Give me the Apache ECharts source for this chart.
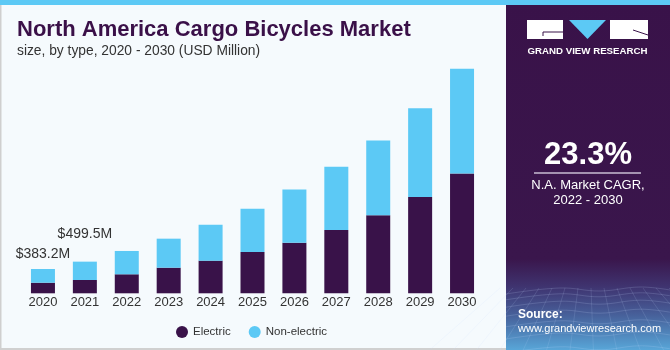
<!DOCTYPE html>
<html>
<head>
<meta charset="utf-8">
<script src="https://cdn.jsdelivr.net/npm/echarts@6/dist/echarts.min.js"></script>
<style>
  html, body { margin: 0; padding: 0; }
  #chart { width: 670px; height: 350px; }
</style>
</head>
<body>
<div id="chart"></div>
<script>
var years = ['2020', '2021', '2022', '2023', '2024', '2025', '2026', '2027', '2028', '2029', '2030'];
var electric = [167, 210, 300, 404, 515, 652, 799, 1000, 1232, 1521, 1889];
var nonElectric = [216.2, 289.5, 368, 458, 568, 684, 837, 995, 1178, 1400, 1653];
var labelled = { 0: 8, 1: 21 };   // year index -> label distance above the bar

var dom_chart = document.getElementById('chart');
var chart = echarts.init(dom_chart);

var purple = '#391249';
var blue = '#5cc9f5';

// perspective grid lines for the bottom of the side panel
var gridLines = [];
for (var i = 0; i < 9; i++) {
    var y = 290 + i * i * 0.8 + i * 5;
    gridLines.push({
        type: 'polyline', silent: true,
        shape: { points: [[506, y + 4], [560, y - 2], [600, y + 1], [640, y - 3], [670, y]], smooth: 0.4 },
        style: { stroke: 'rgba(200,220,255,0.22)', lineWidth: 0.8, fill: null }
    });
}
for (var j = 0; j < 14; j++) {
    var xt = 500 + j * 13;
    gridLines.push({
        type: 'line', silent: true,
        shape: { x1: xt, y1: 288, x2: 588 + (xt - 588) * 1.8, y2: 350 },
        style: { stroke: 'rgba(200,220,255,0.18)', lineWidth: 0.8 }
    });
}

var option = {
    backgroundColor: '#f5fafd',
    animation: false,
    title: {
        text: 'North America Cargo Bicycles Market',
        subtext: 'size, by type, 2020 - 2030 (USD Million)',
        left: 12, top: 14, itemGap: 3,
        textStyle: { fontFamily: 'Liberation Sans', fontWeight: 'bold', fontSize: 22, color: '#3a1048' },
        subtextStyle: { fontFamily: 'Liberation Sans', fontSize: 13.8, color: '#333333' }
    },
    legend: {
        left: 171, top: 321,
        icon: 'circle', itemWidth: 12, itemHeight: 12, itemGap: 18,
        textStyle: { fontFamily: 'Liberation Sans', fontSize: 11.5, color: '#333333' },
        data: ['Electric', 'Non-electric']
    },
    grid: { left: 22, width: 461, bottom: 56.7, top: 39.8 },
    xAxis: {
        type: 'category', data: years,
        axisLine: { show: false }, axisTick: { show: false },
        axisLabel: { margin: 3, fontFamily: 'Liberation Sans', fontSize: 13, color: '#333333' }
    },
    yAxis: { type: 'value', min: 0, max: 4000, show: false, splitLine: { show: false } },
    series: [{
        name: 'Electric', type: 'bar', stack: 'total', barWidth: 24,
        itemStyle: { color: purple },
        data: electric
    }, {
        name: 'Non-electric', type: 'bar', stack: 'total', barWidth: 24,
        itemStyle: { color: blue },
        data: nonElectric.map(function (v, idx) {
            if (labelled[idx] === undefined) return v;
            return {
                value: v,
                label: {
                    show: true, position: 'top', distance: labelled[idx],
                    fontFamily: 'Liberation Sans', fontSize: 14, color: '#333333',
                    formatter: function (p) {
                        return '$' + (electric[p.dataIndex] + nonElectric[p.dataIndex]).toFixed(1) + 'M';
                    }
                }
            };
        })
    }],
    graphic: [
        { type: 'rect', silent: true, shape: { x: 0, y: 0, width: 1.5, height: 350 }, style: { fill: '#cfcfcf' } },
        { type: 'rect', silent: true, shape: { x: 0, y: 348, width: 506, height: 2 }, style: { fill: '#d0d0d0' } },
        {
            type: 'rect', silent: true, shape: { x: 506, y: 0, width: 164, height: 350 },
            style: {
                fill: new echarts.graphic.LinearGradient(0, 0, 0, 1, [
                    { offset: 0, color: purple },
                    { offset: 0.74, color: '#3a164c' },
                    { offset: 0.82, color: '#3f3470' },
                    { offset: 0.9, color: '#47609a' },
                    { offset: 1, color: '#58a6d8' }
                ])
            }
        },
        { type: 'group', children: gridLines },
        { type: 'rect', silent: true, shape: { x: 0, y: 0, width: 670, height: 5 }, style: { fill: blue } },
        // logo
        { type: 'rect', silent: true, shape: { x: 527, y: 20, width: 36, height: 19 }, style: { fill: '#ffffff' } },
        { type: 'polyline', silent: true, shape: { points: [[563, 32], [543, 32], [543, 36]] }, style: { stroke: purple, lineWidth: 1, fill: null } },
        { type: 'polygon', silent: true, shape: { points: [[569, 20], [606, 20], [587.5, 39]] }, style: { fill: blue } },
        { type: 'rect', silent: true, shape: { x: 610, y: 20, width: 38, height: 19 }, style: { fill: '#ffffff' } },
        { type: 'line', silent: true, shape: { x1: 633, y1: 30, x2: 648, y2: 35 }, style: { stroke: purple, lineWidth: 1 } },
        {
            type: 'text', silent: true, x: 587.5, y: 51.5,
            style: { text: 'GRAND VIEW RESEARCH', fill: '#ffffff', font: 'bold 9.7px "Liberation Sans"', align: 'center', verticalAlign: 'middle' }
        },
        {
            type: 'text', silent: true, x: 588, y: 155,
            style: { text: '23.3%', fill: '#ffffff', font: 'bold 31px "Liberation Sans"', align: 'center', verticalAlign: 'middle' }
        },
        { type: 'line', silent: true, shape: { x1: 534, y1: 173, x2: 641, y2: 173 }, style: { stroke: '#c8bcd2', lineWidth: 1.5 } },
        {
            type: 'text', silent: true, x: 588, y: 185,
            style: { text: 'N.A. Market CAGR,', fill: '#ffffff', font: '13px "Liberation Sans"', align: 'center', verticalAlign: 'middle' }
        },
        {
            type: 'text', silent: true, x: 588, y: 200.5,
            style: { text: '2022 - 2030', fill: '#ffffff', font: '13px "Liberation Sans"', align: 'center', verticalAlign: 'middle' }
        },
        {
            type: 'text', silent: true, x: 518, y: 315,
            style: { text: 'Source:', fill: '#ffffff', font: 'bold 12px "Liberation Sans"', verticalAlign: 'middle' }
        },
        {
            type: 'text', silent: true, x: 518, y: 329,
            style: { text: 'www.grandviewresearch.com', fill: '#ffffff', font: '11px "Liberation Sans"', verticalAlign: 'middle' }
        }
    ]
};

chart.setOption(option);
</script>
</body>
</html>
